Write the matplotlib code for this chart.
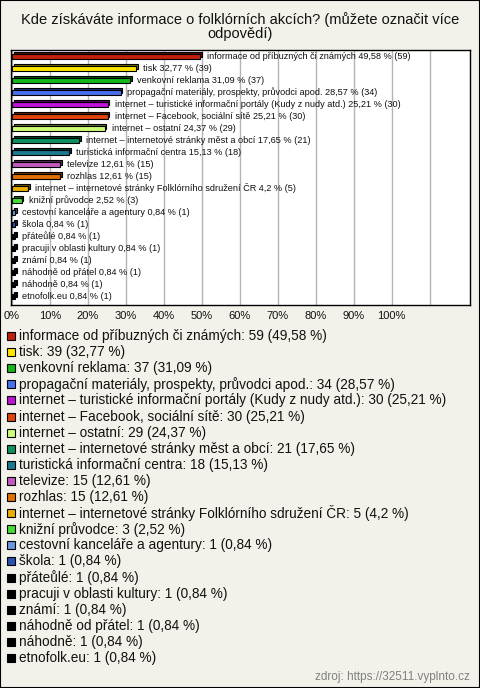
import matplotlib.pyplot as plt
import matplotlib.colors as mcolors
from matplotlib.patches import Rectangle
import numpy as np

plt.rcParams['font.family'] = ['Liberation Sans', 'DejaVu Sans']

answers = [
    'informace od příbuzných či známých',
    'tisk',
    'venkovní reklama',
    'propagační materiály, prospekty, průvodci apod.',
    'internet – turistické informační portály (Kudy z nudy atd.)',
    'internet – Facebook, sociální sítě',
    'internet – ostatní',
    'internet – internetové stránky měst a obcí',
    'turistická informační centra',
    'televize',
    'rozhlas',
    'internet – internetové stránky Folklórního sdružení ČR',
    'knižní průvodce',
    'cestovní kanceláře a agentury',
    'škola',
    'přáteůlé',
    'pracuji v oblasti kultury',
    'známí',
    'náhodně od přátel',
    'náhodně',
    'etnofolk.eu',
]
counts = [59, 39, 37, 34, 30, 30, 29, 21, 18, 15, 15, 5, 3, 1, 1, 1, 1, 1, 1, 1, 1]
percents = [49.58, 32.77, 31.09, 28.57, 25.21, 25.21, 24.37, 17.65, 15.13, 12.61,
            12.61, 4.2, 2.52, 0.84, 0.84, 0.84, 0.84, 0.84, 0.84, 0.84, 0.84]
colors = ['#c0200c', '#ffe600', '#13b81b', '#4a6ef0', '#c012d8', '#e0440a',
          '#ccff77', '#0e9060', '#1a7a90', '#c05ac0', '#e07000', '#e8b000',
          '#44dd33', '#6a96e0', '#2a50b0', '#000000', '#000000', '#000000',
          '#000000', '#000000', '#000000']
tick_values = list(range(0, 111, 10))


def fmt(v):
    return f'{v:.2f}'.rstrip('0').rstrip('.').replace('.', ',')


W, H = 480, 688
fig = plt.figure(figsize=(4.8, 6.88), dpi=100, facecolor='#f3f2ea')

fig.text(0.5, 1 - 20 / H, 'Kde získáváte informace o folklórních akcích? (můžete označit více',
         ha='center', va='center', fontsize=10.5, color='#111111')
fig.text(0.5, 1 - 34 / H, 'odpovědí)', ha='center', va='center', fontsize=10.5, color='#111111')

ax = fig.add_axes([10.5 / W, 1 - 305 / H, (470 - 10.5) / W, 255 / H])
ax.set_facecolor('white')

y = np.arange(len(answers))
dark = [tuple(np.array(mcolors.to_rgb(c)) * 0.45) for c in colors]
dx, dy = 0.45, 0.13
ax.barh(y - dy, percents, left=dx, height=0.42, color=dark,
        edgecolor='black', linewidth=0.8, zorder=2)
ax.barh(y, percents, height=0.42, color=colors,
        edgecolor='black', linewidth=0.8, zorder=3)

for yi, a, p, n in zip(y, answers, percents, counts):
    ax.annotate(f'{a} {fmt(p)} % ({n})', (p, yi), xytext=(5, 0),
                textcoords='offset points', va='center', fontsize=6.6,
                color='#111111', zorder=4)

ax.set_xlim(-0.4, 120.6)
ax.set_ylim(len(answers) - 0.25, -0.54)
ax.set_xticks(tick_values)
ax.set_xticklabels([f'{t}%' if t <= 100 else '' for t in tick_values])
ax.tick_params(axis='x', length=0, pad=4, labelsize=8, colors='#111111')
ax.set_yticks([])
ax.grid(axis='x', color='#b4b4b4', lw=1, zorder=0)
ax.set_axisbelow(True)
for s in ax.spines.values():
    s.set_color('black')
    s.set_linewidth(1)

# legend
for i, (a, p, n, c) in enumerate(zip(answers, percents, counts, colors)):
    yc = 336 + i * 16.1
    fig.patches.append(Rectangle((7 / W, 1 - (yc + 4) / H), 8 / W, 8 / H,
                                 transform=fig.transFigure, facecolor=c,
                                 edgecolor='black', lw=0.8))
    fig.text(19 / W, 1 - yc / H, f'{a}: {n} ({fmt(p)} %)', va='center',
             fontsize=9.8, color='#111111')

fig.text(470 / W, 1 - 677 / H, 'zdroj: https://32511.vyplnto.cz', ha='right',
         va='center', color='#808080', fontsize=8.5)

fig.patches.append(Rectangle((0, 0), 1, 1, transform=fig.transFigure,
                             fill=False, edgecolor='black', lw=1.5))

fig.savefig('out.png', dpi=100, facecolor=fig.get_facecolor())
